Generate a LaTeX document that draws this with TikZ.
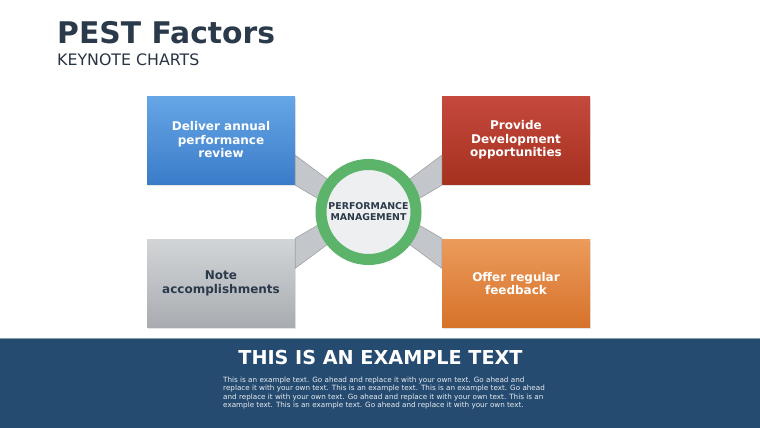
\documentclass[tikz,border=0pt]{standalone}
\usepackage{fontspec}
\setmainfont{DejaVu Sans}
\usetikzlibrary{positioning, shadows}

\definecolor{titlenavy}{HTML}{2B3A4B}
\definecolor{blueTop}{HTML}{65A6E6}
\definecolor{blueBot}{HTML}{3B7CC9}
\definecolor{redTop}{HTML}{C5493D}
\definecolor{redBot}{HTML}{A5311F}
\definecolor{grayTop}{HTML}{D2D5D8}
\definecolor{grayBot}{HTML}{A8ACB0}
\definecolor{orangeTop}{HTML}{EC9B5B}
\definecolor{orangeBot}{HTML}{D6722A}
\definecolor{ringgreen}{HTML}{5BB46A}
\definecolor{hubfill}{HTML}{EDEFF1}
\definecolor{bandfill}{HTML}{C3C6CA}
\definecolor{bandedge}{HTML}{9EA2A6}
\definecolor{bannerblue}{HTML}{264B70}

\begin{document}
\begin{tikzpicture}[x=1pt, y=-1pt,
    factorbox/.style={rectangle, minimum width=148pt, minimum height=88pt, align=center,
        text=white, font=\bfseries\fontsize{12}{13.5}\selectfont,
        drop shadow={opacity=0.2, shadow xshift=1pt, shadow yshift=-1.5pt}},
    linkband/.style={fill=bandfill, draw=bandedge, line width=0.6pt},
    hub/.style={circle, minimum size=95pt, fill=hubfill, draw=ringgreen, line width=11pt,
        align=center, text=titlenavy, font=\bfseries\fontsize{9.4}{11}\selectfont, inner sep=0pt}]
    \useasboundingbox (0,0) rectangle (760,428);
    \fill[white] (0,0) rectangle (760,428);

    % heading
    \node (title) [anchor=base west, inner sep=0pt, text=titlenavy, font=\bfseries\fontsize{29.8}{34}\selectfont] at (57,44) {PEST Factors};
    \node (subtitle) [anchor=base west, inner sep=0pt, text=titlenavy!90!black, font=\fontsize{15.8}{18}\selectfont] at (57,65.5) {KEYNOTE CHARTS};

    % four boxes
    \node (review) [factorbox, top color=blueTop, bottom color=blueBot] at (221,140) {Deliver annual\\performance\\review};
    \node (develop) [factorbox, top color=redTop, bottom color=redBot] at (516,140) {Provide\\Development\\opportunities};
    \node (accomplish) [factorbox, top color=grayTop, bottom color=grayBot, text=titlenavy] at (221,283.5) {Note\\accomplishments};
    \node (feedback) [factorbox, top color=orangeTop, bottom color=orangeBot] at (516,283.5) {Offer regular\\feedback};

    \coordinate (mid) at (368.5,212);

    % bands to the hub
    \draw[linkband] ([yshift=29pt]review.south east) -- ([xshift=-4pt, yshift=5pt]mid) -- ([xshift=-4pt, yshift=-14pt]mid) -- ([yshift=-1pt]review.south east) -- cycle;
    \draw[linkband] ([yshift=-29pt]accomplish.north east) -- ([xshift=-4pt, yshift=-5pt]mid) -- ([xshift=-4pt, yshift=14pt]mid) -- ([yshift=1pt]accomplish.north east) -- cycle;
    \draw[linkband] ([yshift=29pt]develop.south west) -- ([xshift=4pt, yshift=5pt]mid) -- ([xshift=4pt, yshift=-14pt]mid) -- ([yshift=-1pt]develop.south west) -- cycle;
    \draw[linkband] ([yshift=-29pt]feedback.north west) -- ([xshift=4pt, yshift=-5pt]mid) -- ([xshift=4pt, yshift=14pt]mid) -- ([yshift=1pt]feedback.north west) -- cycle;

    \node (pm) [hub] at (mid) {PERFORMANCE\\MANAGEMENT};

    % banner
    \fill[bannerblue] (0,338) rectangle (760,428);
    \draw[bannerblue!55!white, line width=0.8pt] (0,338.4) -- (760,338.4);
    \node (bannertitle) [text=white, inner sep=0pt, font=\bfseries\fontsize{19.2}{22}\selectfont] at (380.5,358) {THIS IS AN EXAMPLE TEXT};
    \node (bannerbody) [anchor=north west, inner sep=0pt, align=left, text=white!90!bannerblue, font=\fontsize{7.2}{8.5}\selectfont] at (223,376.5)
        {This is an example text. Go ahead and replace it with your own text. Go ahead and\\
         replace it with your own text. This is an example text. This is an example text. Go ahead\\
         and replace it with your own text. Go ahead and replace it with your own text. This is an\\
         example text. This is an example text. Go ahead and replace it with your own text.};
\end{tikzpicture}
\end{document}
